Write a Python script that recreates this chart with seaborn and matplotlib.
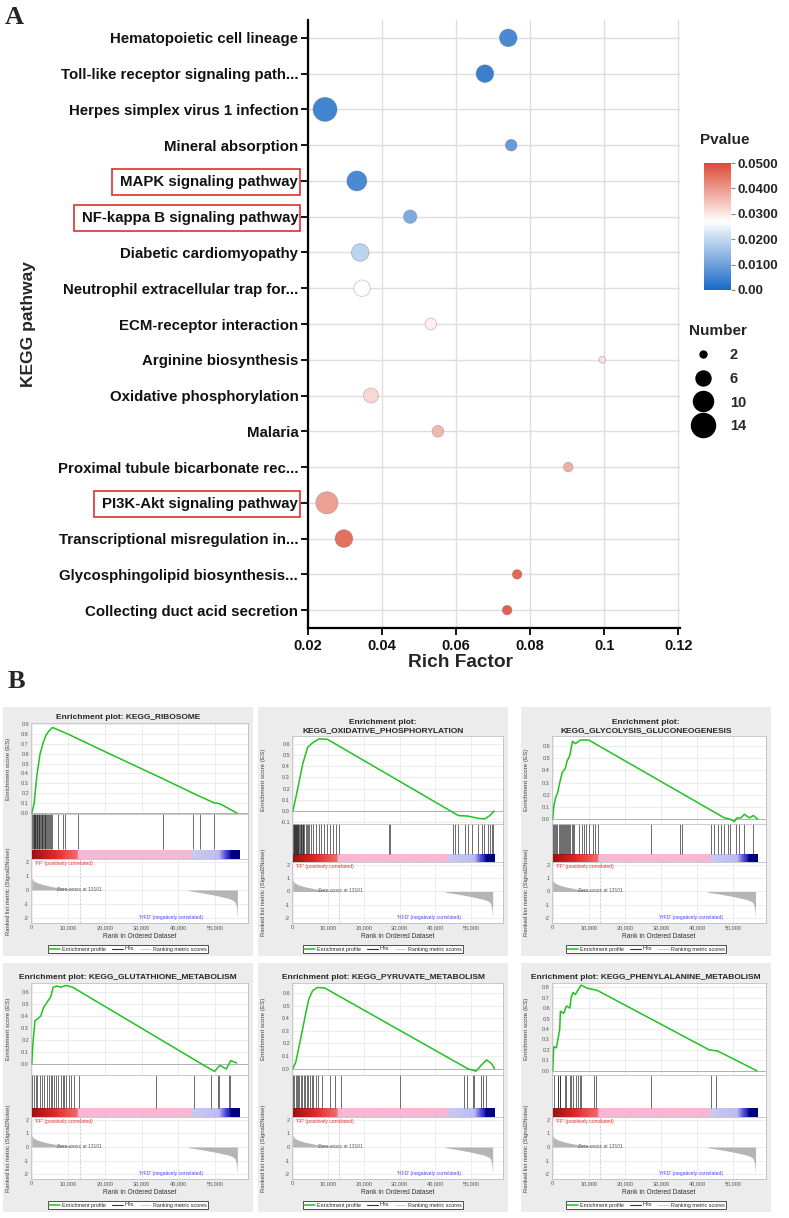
import numpy as np
import pandas as pd
import matplotlib
matplotlib.use("Agg")
import matplotlib.pyplot as plt
import seaborn as sns
from matplotlib.colors import LinearSegmentedColormap, Normalize
from matplotlib.cm import ScalarMappable
from matplotlib.patches import Rectangle
from matplotlib.lines import Line2D

sns.set_theme(style="white")
plt.rcParams["font.family"] = ["Liberation Sans", "DejaVu Sans"]

# ---------------- panel A: KEGG bubble chart
pathways = ["Hematopoietic cell lineage", "Toll-like receptor signaling path...",
            "Herpes simplex virus 1 infection", "Mineral absorption",
            "MAPK signaling pathway", "NF-kappa B signaling pathway",
            "Diabetic cardiomyopathy", "Neutrophil extracellular trap for...",
            "ECM-receptor interaction", "Arginine biosynthesis",
            "Oxidative phosphorylation", "Malaria",
            "Proximal tubule bicarbonate rec...", "PI3K-Akt signaling pathway",
            "Transcriptional misregulation in...", "Glycosphingolipid biosynthesis...",
            "Collecting duct acid secretion"]
rich_factor = [0.0741, 0.0678, 0.0246, 0.0749, 0.0332, 0.0476, 0.0341, 0.0346, 0.0532,
               0.0995, 0.0370, 0.0551, 0.0903, 0.0251, 0.0297, 0.0765, 0.0738]
pvalues = [0.006, 0.004, 0.005, 0.009, 0.006, 0.012, 0.019, 0.027, 0.029,
           0.031, 0.032, 0.036, 0.037, 0.039, 0.045, 0.046, 0.047]
gene_counts = [8, 8, 14, 4, 10, 5, 8, 7, 4, 2, 6, 4, 3, 12, 8, 3, 3]
boxed_pathways = ["MAPK signaling pathway", "NF-kappa B signaling pathway", "PI3K-Akt signaling pathway"]
rich_ticks = [0.02, 0.04, 0.06, 0.08, 0.1, 0.12]
rich_labels = ["0.02", "0.04", "0.06", "0.08", "0.1", "0.12"]
p_ticks = [0.0, 0.01, 0.02, 0.03, 0.04, 0.05]
p_labels = ["0.00", "0.0100", "0.0200", "0.0300", "0.0400", "0.0500"]
number_legend = [2, 6, 10, 14]

# ---------------- panel B: GSEA plots
rank_ticks = [0, 10000, 20000, 30000, 40000, 50000]
rank_labels = ["0", "10,000", "20,000", "30,000", "40,000", "50,000"]
metric_ticks = [2, 1, 0, -1, -2]
metric_rank = [0, 500, 1600, 3500, 6200, 9800, 12600, 13101, 42700, 42800, 46400, 50000,
               53700, 55000, 55500, 55900, 56100]
metric_score = [0.85, 0.65, 0.5, 0.35, 0.2, 0.1, 0.03, 0.0, 0.0, -0.05, -0.2, -0.38,
                -0.6, -0.75, -0.9, -1.3, -2.0]
zero_cross = 13101
list_size = 56500

ribo_rank = [0, 640, 1370, 2280, 3200, 3930, 4750, 5660, 9770, 20000, 35300, 44000, 49900,
             50500, 51500, 56000]
ribo_es = [0.0, 0.09, 0.37, 0.60, 0.72, 0.79, 0.83, 0.865, 0.80, 0.62, 0.355, 0.20, 0.10,
           0.10, 0.09, 0.0]
ribo_hits = [150, 350, 500, 700, 850, 1000, 1200, 1350, 1500, 1700, 1900, 2100, 2300, 2500,
             2700, 2900, 3100, 3300, 3500, 3700, 3900, 4100, 4400, 4700, 5000, 5300, 5600,
             7200, 8400, 8950, 12500, 35800, 44000, 46000, 49800]
ribo_ticks = [0.0, 0.1, 0.2, 0.3, 0.4, 0.5, 0.6, 0.7, 0.8, 0.9]

oxphos_rank = [0, 190, 1400, 2800, 4200, 5600, 7400, 9760, 46500, 49300, 52100, 53900,
               55300, 56500]
oxphos_es = [0.0, 0.02, 0.2, 0.42, 0.57, 0.61, 0.645, 0.64, -0.04, -0.045, -0.065, -0.07,
             -0.04, 0.0]
oxphos_hits = [100, 250, 400, 550, 700, 850, 1000, 1150, 1300, 1450, 1600, 1800, 2000, 2200,
               2400, 2600, 2800, 3000, 3300, 3600, 3900, 4200, 4600, 5100, 5760, 6500, 7250,
               7900, 8830, 9760, 10400, 11300, 12100, 13000, 27000, 27200, 45100, 45600,
               46300, 48300, 49300, 50200, 52100, 53000, 53700, 54900, 55300, 55800, 56200]
oxphos_ticks = [-0.1, 0.0, 0.1, 0.2, 0.3, 0.4, 0.5, 0.6]

glyco_rank = [0, 280, 740, 1390, 1940, 2590, 3520, 3980, 4720, 5460, 6290, 7680, 9990,
              12300, 47500, 49100, 50200, 51000, 52100, 53000, 54400, 55500, 56700]
glyco_es = [0.0, 0.1, 0.17, 0.22, 0.30, 0.38, 0.42, 0.48, 0.52, 0.64, 0.62, 0.65, 0.65,
            0.61, 0.01, 0.0, -0.02, 0.01, 0.01, 0.04, 0.01, 0.03, 0.0]
glyco_hits = [150, 400, 700, 1000, 1300, 1600, 1900, 2200, 2500, 2800, 3100, 3400, 3700,
              4000, 4300, 4600, 4900, 5200, 5500, 5800, 7200, 8100, 8600, 9300, 10000,
              11200, 11800, 12500, 27100, 35300, 35900, 43800, 44500, 45600, 46500, 47500,
              48400, 49100, 50700, 51600, 53000, 55300]
glyco_ticks = [0.0, 0.1, 0.2, 0.3, 0.4, 0.5, 0.6]

gsh_rank = [0, 90, 320, 870, 1700, 2460, 3200, 4290, 5200, 5840, 6850, 7950, 9320, 11150,
            48100, 49900, 51300, 53100, 54300, 55900]
gsh_es = [0.0, 0.05, 0.17, 0.36, 0.38, 0.40, 0.47, 0.52, 0.56, 0.64, 0.65, 0.64, 0.655,
          0.64, -0.03, -0.06, -0.01, -0.04, 0.03, 0.01]
gsh_hits = [180, 640, 1100, 1550, 2280, 2920, 3380, 4110, 4750, 5200, 5660, 6120, 6580,
            7030, 7950, 8400, 8860, 9320, 10200, 10700, 11600, 12800, 33800, 44300, 48800,
            50900, 51100, 53800, 54200]
gsh_ticks = [0.0, 0.1, 0.2, 0.3, 0.4, 0.5, 0.6]

pyr_rank = [0, 840, 1960, 3370, 4490, 5600, 7000, 9000, 49100, 51400, 53000, 54400, 55800,
            56600]
pyr_es = [0.0, 0.05, 0.2, 0.4, 0.55, 0.62, 0.645, 0.64, 0.0, -0.02, 0.03, 0.07, 0.04, 0.0]
pyr_hits = [200, 500, 800, 1100, 1500, 1900, 2300, 2700, 3100, 3500, 3900, 4300, 4800, 5300,
            5800, 6400, 7000, 8200, 10500, 12000, 13500, 30000, 48000, 49000, 50500, 51000,
            52800, 53500, 54200]
pyr_ticks = [0.0, 0.1, 0.2, 0.3, 0.4, 0.5, 0.6]

phe_rank = [0, 280, 1020, 1480, 1940, 2130, 3050, 3790, 4720, 5090, 5640, 6290, 6940, 7870,
            9530, 12300, 43300, 45600, 56500]
phe_es = [0.0, 0.23, 0.22, 0.31, 0.40, 0.57, 0.55, 0.62, 0.60, 0.70, 0.75, 0.73, 0.77, 0.82,
          0.79, 0.77, 0.20, 0.19, 0.0]
phe_hits = [300, 1400, 1500, 1900, 2100, 3500, 3700, 4700, 5000, 5500, 6500, 6900, 7500,
            7800, 11400, 12100, 27100, 43800, 45100]
phe_ticks = [0.0, 0.1, 0.2, 0.3, 0.4, 0.5, 0.6, 0.7, 0.8]

W, H = 789, 1218
fig = plt.figure(figsize=(W / 100, H / 100), dpi=100)


def add_ax(l, t, w, h):
    return fig.add_axes([l / W, 1 - (t + h) / H, w / W, h / H])


# ======== panel A
pval_cmap = LinearSegmentedColormap.from_list(
    "pv", [(0, "#1769c6"), (0.54, "#ffffff"), (1, "#dc4a35")])

axA = add_ax(308, 20, 372, 608)
bubbles = pd.DataFrame({"pathway": pathways, "rich": rich_factor, "p": pvalues, "n": gene_counts})
sns.scatterplot(data=bubbles, x="rich", y="pathway", hue="p", size="n",
                palette=pval_cmap, hue_norm=(0, 0.05), sizes=(25, 300), size_norm=(2, 14),
                edgecolor=(0.4, 0.4, 0.4, 0.35), linewidth=0.6, legend=False, ax=axA, zorder=3)
axA.set_xlim(0.02, 0.1205)
axA.set_ylim(len(pathways) - 0.5, -0.5)
axA.set_xticks(rich_ticks, rich_labels)
axA.grid(True, color="#dedede", lw=1)
axA.set_axisbelow(True)
axA.spines[["top", "right"]].set_visible(False)
axA.spines[["left", "bottom"]].set_color("black")
axA.spines[["left", "bottom"]].set_linewidth(1.6)
axA.tick_params(axis="both", direction="out", length=5, width=1.3, color="black",
                bottom=True, left=True, pad=2)
axA.tick_params(axis="y", labelsize=10.8)
axA.tick_params(axis="x", labelsize=10.5, pad=3)
for lbl in axA.get_xticklabels() + axA.get_yticklabels():
    lbl.set_fontweight("bold")
    lbl.set_color("#111111")
axA.set_xlabel("")
axA.set_ylabel("")
fig.text(28 / W, 1 - 324 / H, "KEGG pathway", rotation=90, ha="center", va="center",
         fontsize=12.5, weight="bold")
fig.text(460 / W, 1 - 663 / H, "Rich Factor", ha="center", va="center", fontsize=13.8,
         weight="bold")
fig.text(5 / W, 1 - 17 / H, "A", family=["Liberation Serif"], weight="bold", fontsize=19,
         va="center")
fig.text(8 / W, 1 - 681 / H, "B", family=["Liberation Serif"], weight="bold", fontsize=19,
         va="center")

cax = add_ax(704, 163, 27, 127)
cb = fig.colorbar(ScalarMappable(Normalize(0, 0.05), pval_cmap), cax=cax)
cb.set_ticks(p_ticks, labels=p_labels)
cb.outline.set_visible(False)
cax.tick_params(length=3, width=0.8, color="#888888", labelsize=9.5, pad=2, right=True)
for lbl in cax.get_yticklabels():
    lbl.set_fontweight("bold")
fig.text(700 / W, 1 - 140 / H, "Pvalue", fontsize=11, weight="bold", va="center")

size_handles = [Line2D([], [], ls="", marker="o", color="black",
                       markersize=np.sqrt(25 + (n - 2) / 12 * 275)) for n in number_legend]
leg = fig.legend(size_handles, [str(n) for n in number_legend], title="Number",
                 loc="upper left", bbox_to_anchor=(683 / W, 1 - 318 / H), frameon=False,
                 prop={"weight": "bold", "size": 10.5},
                 title_fontproperties={"weight": "bold", "size": 11},
                 labelspacing=0.68, handletextpad=0.8, borderaxespad=0)
leg._legend_box.align = "left"

# ======== panel B
bar_cmap = LinearSegmentedColormap.from_list(
    "bar", [(0, "#a01212"), (0.1, "#e02424"), (0.215, "#f26a6a"), (0.222, "#f6b8d4"),
            (0.765, "#f6b8d4"), (0.772, "#cacaf4"), (0.9, "#bcbcf0"), (0.935, "#4848d4"),
            (0.955, "#1818b8"), (0.96, "#00007e"), (1, "#00007e")])

panel_tops = [707, 963]
panel_lefts = [3, 258, 521]
axis_offsets = [28, 34, 31]

gsea_sets = [
    ("Enrichment plot: KEGG_RIBOSOME", ribo_rank, ribo_es, ribo_hits, (-0.01, 0.91), ribo_ticks),
    ("Enrichment plot:\nKEGG_OXIDATIVE_PHOSPHORYLATION", oxphos_rank, oxphos_es, oxphos_hits,
     (-0.115, 0.67), oxphos_ticks),
    ("Enrichment plot:\nKEGG_GLYCOLYSIS_GLUCONEOGENESIS", glyco_rank, glyco_es, glyco_hits,
     (-0.04, 0.683), glyco_ticks),
    ("Enrichment plot: KEGG_GLUTATHIONE_METABOLISM", gsh_rank, gsh_es, gsh_hits,
     (-0.09, 0.675), gsh_ticks),
    ("Enrichment plot: KEGG_PYRUVATE_METABOLISM", pyr_rank, pyr_es, pyr_hits,
     (-0.05, 0.68), pyr_ticks),
    ("Enrichment plot: KEGG_PHENYLALANINE_METABOLISM", phe_rank, phe_es, phe_hits,
     (-0.04, 0.84), phe_ticks),
]

frame_col = "#b4b4b4"
tick_col = "#555555"


def style_frame(ax):
    for s in ax.spines.values():
        s.set_color(frame_col)
        s.set_linewidth(0.5)
    ax.set_facecolor("white")


def gsea_panel(left, top, ax_left, es_top, es_bottom, strip_bottom,
               title, rank, es, hits, ylim, yticks):
    fig.patches.append(Rectangle((left / W, 1 - (top + 249) / H), 250 / W, 249 / H,
                                 transform=fig.transFigure, facecolor="#ececec",
                                 edgecolor="none", zorder=-5))
    fig.text((left + 125) / W, 1 - (top + es_top - 2) / H, title, ha="center", va="bottom",
             fontsize=6, weight="bold", linespacing=1.3)
    width = 245 - ax_left

    ax_es = add_ax(left + ax_left, top + es_top, width, es_bottom - es_top)
    style_frame(ax_es)
    sns.lineplot(x=rank, y=es, ax=ax_es, color="#1fc21f", lw=1.1, sort=False, estimator=None)
    ax_es.axhline(0, color="#9a9a9a", lw=0.5, zorder=1)
    ax_es.set_xlim(-200, 59000)
    ax_es.set_ylim(*ylim)
    ax_es.set_xticks(rank_ticks, [])
    ax_es.set_yticks(yticks, [f"{v:.1f}" for v in yticks])
    ax_es.grid(True, color="#e6e6e6", lw=0.5)
    ax_es.tick_params(length=0, labelsize=4, labelcolor=tick_col, pad=1.5)
    ax_es.set_xlabel("")
    ax_es.set_ylabel("Enrichment score (ES)", fontsize=4.5, color="#444444")
    ax_es.yaxis.set_label_coords(-(ax_left - 8) / width, 0.5)

    ax_h = add_ax(left + ax_left, top + es_bottom, width, strip_bottom - es_bottom)
    style_frame(ax_h)
    ax_h.vlines(hits, 0.22, 1, color="#1a1a1a", lw=0.45)
    ax_h.imshow(np.linspace(0, 1, 400)[None, :], aspect="auto", cmap=bar_cmap,
                extent=(0, list_size, 0, 0.2), interpolation="bilinear")
    ax_h.set_xlim(-200, 59000)
    ax_h.set_ylim(0, 1)
    ax_h.set_xticks([])
    ax_h.set_yticks([])

    ax_m = add_ax(left + ax_left, top + strip_bottom, width, 216 - strip_bottom)
    style_frame(ax_m)
    ax_m.fill_between(metric_rank, metric_score, 0, color="#b5b5b5", lw=0)
    ax_m.axvline(zero_cross, color="#c4c4c4", lw=0.5, ls="--")
    ax_m.set_xlim(-200, 59000)
    ax_m.set_ylim(-2.36, 2.21)
    ax_m.set_xticks(rank_ticks, rank_labels)
    ax_m.set_yticks(metric_ticks, [str(v) for v in metric_ticks])
    ax_m.grid(True, color="#e6e6e6", lw=0.5)
    ax_m.tick_params(length=0, labelsize=4, labelcolor=tick_col, pad=1.5)
    ax_m.set_xlabel("Rank in Ordered Dataset", fontsize=4.8, color="#333333", labelpad=2)
    ax_m.set_ylabel("Ranked list metric (Signal2Noise)", fontsize=4.2, color="#444444")
    ax_m.yaxis.set_label_coords(-(ax_left - 8) / width, 0.5)
    ax_m.text(900, 1.9, "'FF' (positively correlated)", color="#e03030", fontsize=3.6,
              va="center")
    ax_m.text(7000, 0.05, "Zero cross at 13101", color="#555555", fontsize=3.6, va="center")
    ax_m.text(29300, -1.95, "'HFD' (negatively correlated)", color="#4646ff", fontsize=3.6,
              va="center")

    handles = [Line2D([], [], color="#1fc21f", lw=1.1), Line2D([], [], color="#333333", lw=0.8),
               Line2D([], [], color="#cfcfcf", lw=0.8)]
    lg = fig.legend(handles, ["Enrichment profile", "Hits", "Ranking metric scores"],
                    loc="center", bbox_to_anchor=((left + 125) / W, 1 - (top + 242) / H),
                    ncol=3, fontsize=3.9, frameon=True, fancybox=False, edgecolor="#333333",
                    framealpha=1, handlelength=2, columnspacing=1.0, borderpad=0.35,
                    handletextpad=0.4)
    lg.get_frame().set_linewidth(0.6)


for i, (title, rank, es, hits, ylim, yticks) in enumerate(gsea_sets):
    row, col = divmod(i, 3)
    two_line = "\n" in title
    if row == 0:
        es_top, es_bottom, strip_bottom = (29, 117, 155) if two_line else (16, 107, 152)
    else:
        es_top, es_bottom, strip_bottom = 20, 112, 154
    gsea_panel(panel_lefts[col], panel_tops[row], axis_offsets[col], es_top, es_bottom,
               strip_bottom, title, rank, es, hits, ylim, yticks)

# red boxes around highlighted pathway labels
fig.canvas.draw()
renderer = fig.canvas.get_renderer()
to_fig = fig.transFigure.inverted()
for lbl in axA.get_yticklabels():
    if lbl.get_text() in boxed_pathways:
        bb = lbl.get_window_extent(renderer)
        (x0, y0), (x1, y1) = to_fig.transform([(bb.x0 - 8, bb.y0 - 6), (bb.x1 + 2, bb.y1 + 6)])
        fig.patches.append(Rectangle((x0, y0), x1 - x0, y1 - y0, transform=fig.transFigure,
                                     fill=False, edgecolor="#e03030", lw=1.2))

fig.savefig("out.png", dpi=100)
